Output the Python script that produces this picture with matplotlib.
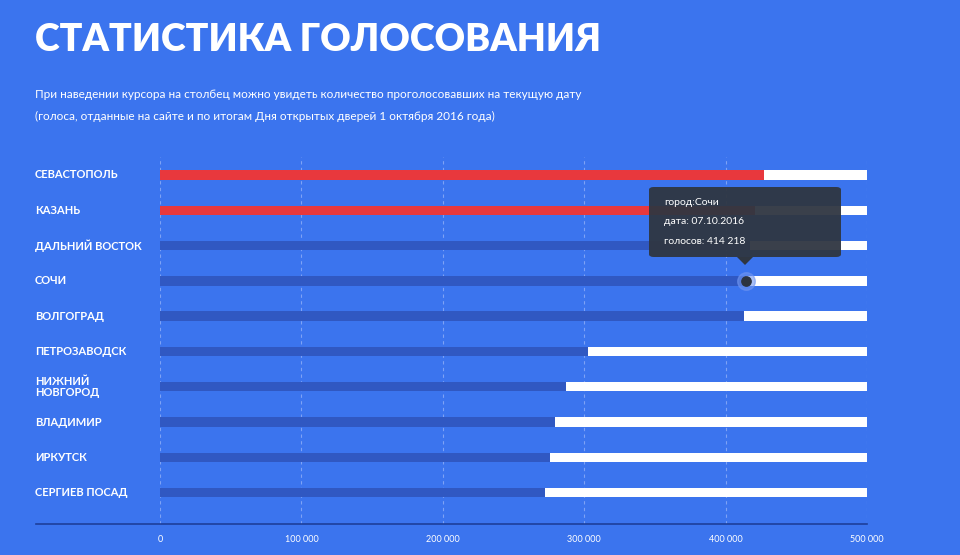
import matplotlib
matplotlib.use("Agg")
import matplotlib.pyplot as plt
from matplotlib.patches import FancyBboxPatch

cities = ["СЕВАСТОПОЛЬ", "КАЗАНЬ", "ДАЛЬНИЙ ВОСТОК", "СОЧИ", "ВОЛГОГРАД",
          "ПЕТРОЗАВОДСК", "НИЖНИЙ\nНОВГОРОД", "ВЛАДИМИР", "ИРКУТСК", "СЕРГИЕВ ПОСАД"]
votes = [427000, 421000, 417000, 414218, 413000, 303000, 287000, 279000, 276000, 272000]
leaders = [True, True, False, False, False, False, False, False, False, False]
total = 500000
ticks = [0, 100000, 200000, 300000, 400000, 500000]
tick_labels = ["0", "100 000", "200 000", "300 000", "400 000", "500 000"]

BG = "#3b74ee"
W, H = 960, 555
fig = plt.figure(figsize=(9.6, 5.55), dpi=100, facecolor=BG)
ax = fig.add_axes([160/W, 1-524/H, 707/W, (524-157)/H])
ax.set_facecolor(BG)
ax.set_xlim(0, total)
ax.set_ylim(9.89, -0.51)
for s in ax.spines.values():
    s.set_visible(False)
ax.set_yticks([]); ax.set_xticks([])
for t in ticks:
    ax.axvline(t, color="#7ea2f5", lw=0.8, ls=(0, (3, 3)), zorder=0)
y = list(range(len(cities)))
ax.barh(y, [total]*len(y), height=0.27, color="white", zorder=1)
ax.barh(y, votes, height=0.27, color=["#e8383d" if l else "#3058c2" for l in leaders], zorder=2)
for i, c in enumerate(cities):
    fig.text(35/W, 1-(175+i*35.3)/H, c, color="white", fontsize=8, fontweight="bold",
             family="Lato", va="center", ha="left", linespacing=1.0)
for t, lab in zip(ticks, tick_labels):
    fig.text((160+t/total*707)/W, 1-540/H, lab, color="white", fontsize=6.5,
             family="Lato", ha="center", va="center")
fig.add_artist(plt.Line2D([36/W, 867/W], [1-524/H, 1-524/H], color="#1d3f9a", lw=1.2))

# tooltip
ax.scatter([votes[3]], [3], s=160, color="#6f95f0", alpha=0.6, zorder=4)
ax.scatter([votes[3]], [3], s=45, color="#2c3440", zorder=5)
box = FancyBboxPatch((649/W, 1-257/H), 192/W, 70/H, boxstyle="round,pad=0,rounding_size=0.005",
                     transform=fig.transFigure, facecolor="#2f3641", edgecolor="none", alpha=0.95, zorder=10)
fig.add_artist(box)
tri = plt.Polygon([[737/W, 1-257/H], [753/W, 1-257/H], [745/W, 1-265/H]], closed=True,
                  transform=fig.transFigure, facecolor="#2f3641", edgecolor="none", zorder=10)
fig.add_artist(tri)
for j, tx in enumerate(["город:Сочи", "дата: 07.10.2016", "голосов: 414 218"]):
    fig.text(664/W, 1-(202+j*19.5)/H, tx, color="white", fontsize=7.5, family="Lato",
             va="center", zorder=11)

fig.text(35/W, 1-40/H, "СТАТИСТИКА ГОЛОСОВАНИЯ", color="white", fontsize=27,
         fontweight="heavy", family="Lato", va="center")
fig.text(35/W, 1-95/H, "При наведении курсора на столбец можно увидеть количество проголосовавших на текущую дату",
         color="white", fontsize=8.5, family="Lato", va="center")
fig.text(35/W, 1-116/H, "(голоса, отданные на сайте и по итогам Дня открытых дверей 1 октября 2016 года)",
         color="white", fontsize=8.5, family="Lato", va="center")
fig.savefig("out.png", dpi=100, facecolor=BG)
